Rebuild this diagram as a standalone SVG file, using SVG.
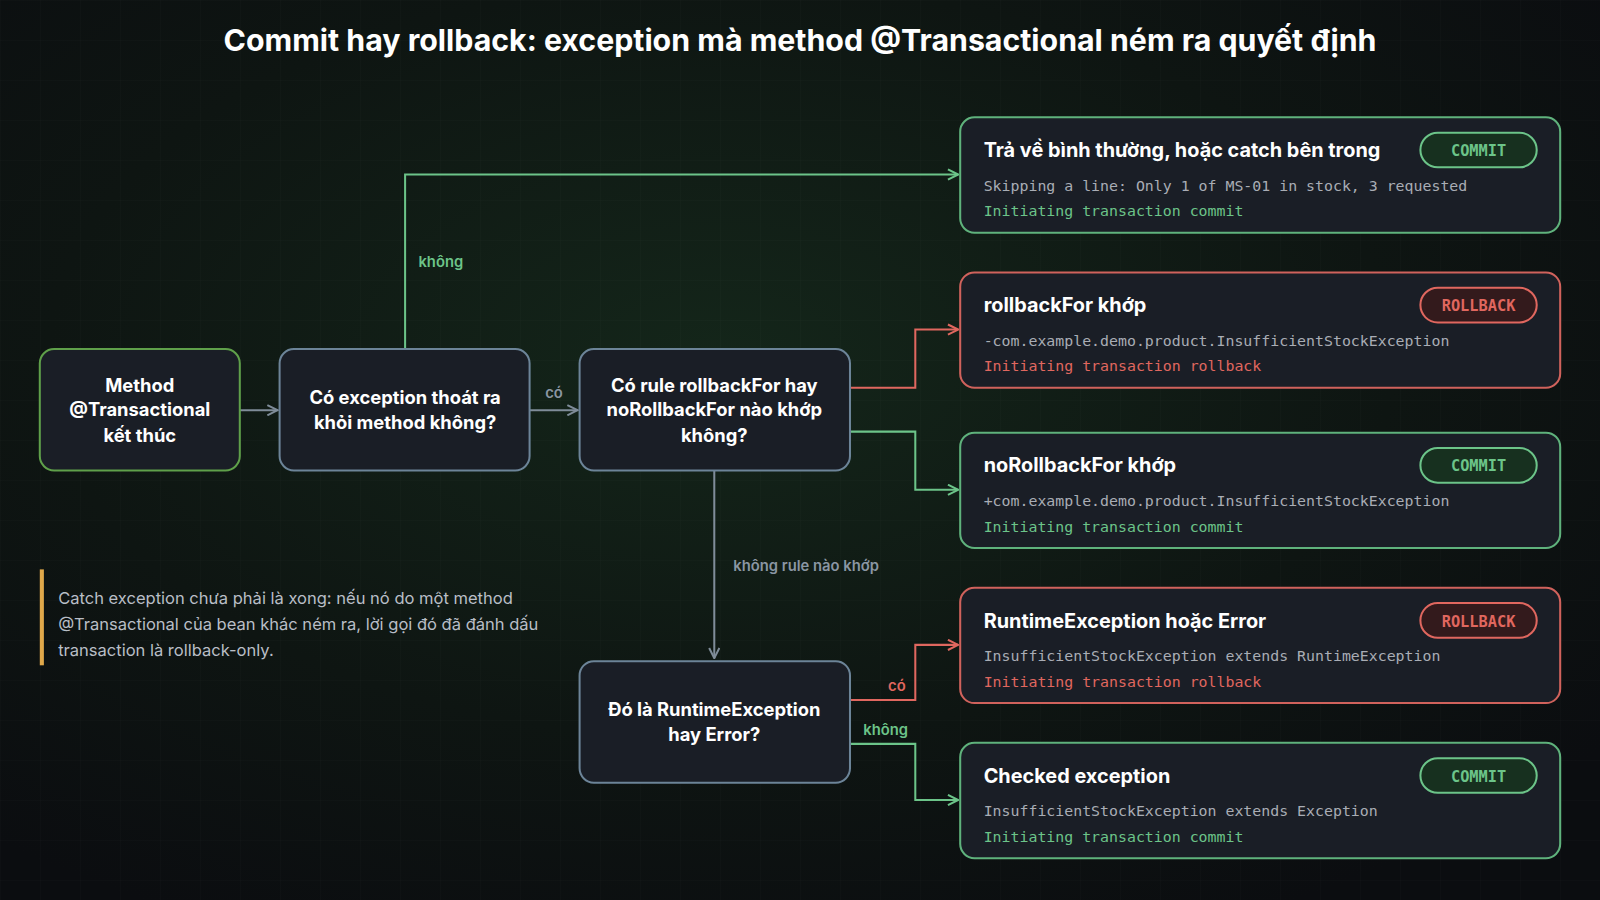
<svg xmlns="http://www.w3.org/2000/svg" width="1600" height="900" viewBox="0 0 1600 900">
<defs>
<radialGradient id="bg" cx="0.45" cy="0.4" r="0.7">
<stop offset="0" stop-color="#14261a"/><stop offset="0.6" stop-color="#0e1512"/><stop offset="1" stop-color="#0b0d10"/>
</radialGradient>
<pattern id="grid" width="40" height="40" patternUnits="userSpaceOnUse">
<path d="M40 0H0V40" fill="none" stroke="#ffffff" stroke-opacity="0.025" stroke-width="1"/>
</pattern>
<marker id="aG" viewBox="0 0 12 12" refX="11" refY="6" markerWidth="12" markerHeight="12" markerUnits="userSpaceOnUse" orient="auto"><path d="M1 1L11 6L1 11" fill="none" stroke="#6cc489" stroke-width="2"/></marker>
<marker id="aR" viewBox="0 0 12 12" refX="11" refY="6" markerWidth="12" markerHeight="12" markerUnits="userSpaceOnUse" orient="auto"><path d="M1 1L11 6L1 11" fill="none" stroke="#e0675f" stroke-width="2"/></marker>
<marker id="aS" viewBox="0 0 12 12" refX="11" refY="6" markerWidth="12" markerHeight="12" markerUnits="userSpaceOnUse" orient="auto"><path d="M1 1L11 6L1 11" fill="none" stroke="#7f8c99" stroke-width="2"/></marker>
</defs>
<style>
.node{fill:#1a1e26;stroke:#6c8498;stroke-width:2}
.start{fill:#1a1e26;stroke:#5fa04a;stroke-width:2}
.nt{font-family:Inter,"Liberation Sans",sans-serif;font-weight:700;font-size:18px;fill:#ffffff;text-anchor:middle}
.cardG{fill:#1a1e26;stroke:#5fb27c;stroke-width:2}
.cardR{fill:#1a1e26;stroke:#d0625c;stroke-width:2}
.ct{font-family:Inter,"Liberation Sans",sans-serif;font-weight:700;font-size:19.5px;fill:#ffffff}
.mono{font-family:"DejaVu Sans Mono","Liberation Mono",monospace;font-size:14.6px;fill:#a9adb5}
.mg{fill:#6cc489}.mr{fill:#e0675f}
.bG{fill:#17301f;stroke:#6cc489;stroke-width:2}
.bR{fill:#331a1c;stroke:#e0675f;stroke-width:2}
.bt{font-family:"DejaVu Sans Mono","Liberation Mono",monospace;font-weight:700;font-size:15px;text-anchor:middle}
.lG{fill:none;stroke:#6cc489;stroke-width:2}
.lR{fill:none;stroke:#e0675f;stroke-width:2}
.lS{fill:none;stroke:#7f8c99;stroke-width:2}
.lab{font-family:Inter,"Liberation Sans",sans-serif;font-weight:600;font-size:14.5px}
</style>
<rect width="1600" height="900" fill="url(#bg)"/>
<rect width="1600" height="900" fill="url(#grid)"/>
<g transform="scale(1.0204)">
<text x="784" y="50" font-family="Inter,'Liberation Sans',sans-serif" font-weight="700" font-size="29.7" fill="#ffffff" text-anchor="middle">Commit hay rollback: exception mà method @Transactional ném ra quyết định</text>

<g id="connectors">
<path class="lS" d="M235 402H272" marker-end="url(#aS)"/>
<path class="lS" d="M519 402H566" marker-end="url(#aS)"/>
<text class="lab" x="543" y="390" fill="#8a96a3" text-anchor="middle">có</text>
<path class="lG" d="M397 342V171H939" marker-end="url(#aG)"/>
<text class="lab" x="432" y="262" fill="#6cc489" text-anchor="middle">không</text>
<path class="lR" d="M833 380H897V323H939" marker-end="url(#aR)"/>
<path class="lG" d="M833 423H897V480H939" marker-end="url(#aG)"/>
<path class="lS" d="M700 461V645" marker-end="url(#aS)"/>
<text class="lab" x="790" y="560" fill="#8a96a3" text-anchor="middle">không rule nào khớp</text>
<path class="lR" d="M833 686H897V632H939" marker-end="url(#aR)"/>
<text class="lab" x="879" y="677" fill="#e0675f" text-anchor="middle">có</text>
<path class="lG" d="M833 729H897V784H939" marker-end="url(#aG)"/>
<text class="lab" x="868" y="720" fill="#6cc489" text-anchor="middle">không</text>
</g>

<g id="n-start"><rect class="start" x="39" y="342" width="196" height="119" rx="14"/>
<text class="nt" x="137" y="384">Method</text><text class="nt" x="137" y="408">@Transactional</text><text class="nt" x="137" y="433">kết thúc</text></g>
<g id="n-q1"><rect class="node" x="274" y="342" width="245" height="119" rx="14"/>
<text class="nt" x="397" y="396">Có exception thoát ra</text><text class="nt" x="397" y="420">khỏi method không?</text></g>
<g id="n-q2"><rect class="node" x="568" y="342" width="265" height="119" rx="14"/>
<text class="nt" x="700" y="384">Có rule rollbackFor hay</text><text class="nt" x="700" y="408">noRollbackFor nào khớp</text><text class="nt" x="700" y="433">không?</text></g>
<g id="n-q3"><rect class="node" x="568" y="648" width="265" height="119" rx="14"/>
<text class="nt" x="700" y="702">Đó là RuntimeException</text><text class="nt" x="700" y="726">hay Error?</text></g>

<g id="c1"><rect class="cardG" x="941" y="115" width="588" height="113" rx="14"/>
<text class="ct" x="964" y="154">Trả về bình thường, hoặc catch bên trong</text>
<rect class="bG" x="1392" y="130" width="114" height="34" rx="17"/><text class="bt mg" x="1449" y="153">COMMIT</text>
<text class="mono" x="964" y="187">Skipping a line: Only 1 of MS-01 in stock, 3 requested</text>
<text class="mono mg" x="964" y="212">Initiating transaction commit</text></g>
<g id="c2"><rect class="cardR" x="941" y="267" width="588" height="113" rx="14"/>
<text class="ct" x="964" y="306">rollbackFor khớp</text>
<rect class="bR" x="1392" y="282" width="114" height="34" rx="17"/><text class="bt mr" x="1449" y="305">ROLLBACK</text>
<text class="mono" x="964" y="339">-com.example.demo.product.InsufficientStockException</text>
<text class="mono mr" x="964" y="364">Initiating transaction rollback</text></g>
<g id="c3"><rect class="cardG" x="941" y="424" width="588" height="113" rx="14"/>
<text class="ct" x="964" y="463">noRollbackFor khớp</text>
<rect class="bG" x="1392" y="439" width="114" height="34" rx="17"/><text class="bt mg" x="1449" y="462">COMMIT</text>
<text class="mono" x="964" y="496">+com.example.demo.product.InsufficientStockException</text>
<text class="mono mg" x="964" y="521">Initiating transaction commit</text></g>
<g id="c4"><rect class="cardR" x="941" y="576" width="588" height="113" rx="14"/>
<text class="ct" x="964" y="615">RuntimeException hoặc Error</text>
<rect class="bR" x="1392" y="591" width="114" height="34" rx="17"/><text class="bt mr" x="1449" y="614">ROLLBACK</text>
<text class="mono" x="964" y="648">InsufficientStockException extends RuntimeException</text>
<text class="mono mr" x="964" y="673">Initiating transaction rollback</text></g>
<g id="c5"><rect class="cardG" x="941" y="728" width="588" height="113" rx="14"/>
<text class="ct" x="964" y="767">Checked exception</text>
<rect class="bG" x="1392" y="743" width="114" height="34" rx="17"/><text class="bt mg" x="1449" y="766">COMMIT</text>
<text class="mono" x="964" y="800">InsufficientStockException extends Exception</text>
<text class="mono mg" x="964" y="825">Initiating transaction commit</text></g>

<g id="note">
<rect x="39" y="558" width="4" height="94" fill="#e0a84a"/>
<g font-family="Inter,'Liberation Sans',sans-serif" font-size="16.2" fill="#b9bec6">
<text x="57" y="592">Catch exception chưa phải là xong: nếu nó do một method</text>
<text x="57" y="617">@Transactional của bean khác ném ra, lời gọi đó đã đánh dấu</text>
<text x="57" y="643">transaction là rollback-only.</text>
</g></g>
</g>
</svg>
